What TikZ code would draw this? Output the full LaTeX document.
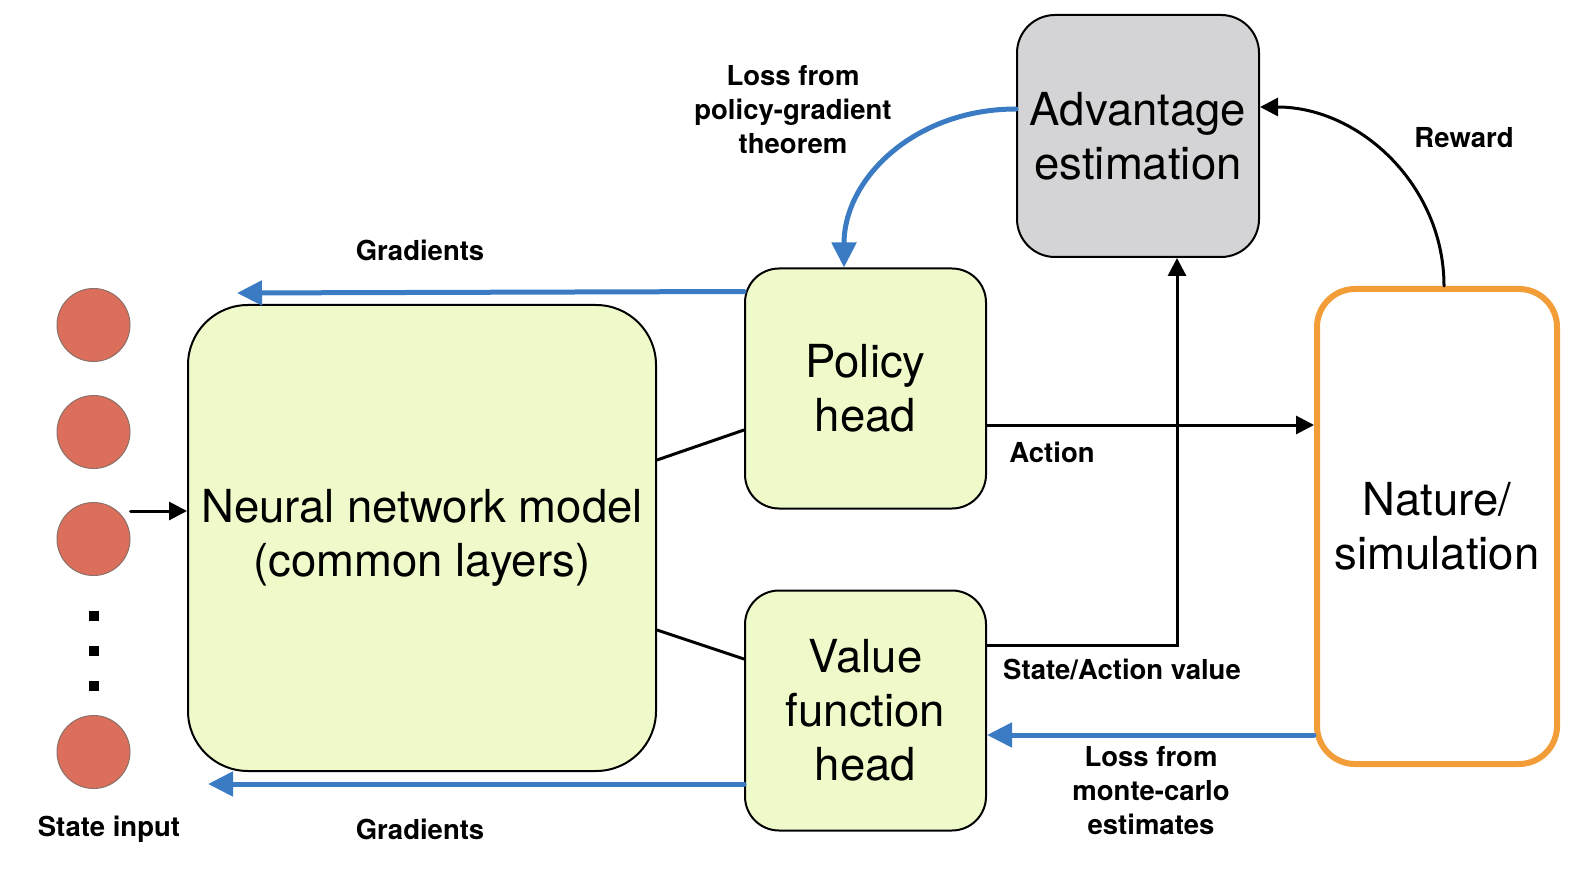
\documentclass[tikz,border=0pt]{standalone}
\usepackage{fontspec}
\setmainfont{TeX Gyre Heros}
\usetikzlibrary{arrows.meta}

\definecolor{headgreen}{HTML}{EFFACB}
\definecolor{unitred}{HTML}{DB6F5B}
\definecolor{unitedge}{HTML}{8C7068}
\definecolor{gradblue}{HTML}{3B7BC4}
\definecolor{advgray}{HTML}{D4D4D6}
\definecolor{natorange}{HTML}{F29D38}

\begin{document}
\begin{tikzpicture}[%
        x = 1pt,
        y = -1pt,
        line cap = round,
        > = {Triangle[length = 18pt, width = 18pt]},
        block/.style = {%
            draw = black,
            line width = 2pt,
            rounded corners = 34pt,
            align = center,
            inner sep = 0pt,
            font = \fontsize{45.5}{54}\selectfont
        },
        head/.style = {block, fill = headgreen, minimum width = 241pt, minimum height = 240pt},
        unit/.style = {%
            circle,
            draw = unitedge,
            line width = 1pt,
            fill = unitred,
            minimum size = 73pt,
            inner sep = 0pt
        },
        dot/.style = {fill = black, minimum size = 10pt, inner sep = 0pt},
        lbl/.style = {align = center, font = \fontsize{27.5}{34}\selectfont\bfseries},
        link/.style = {line width = 3pt},
        grad/.style = {%
            draw = gradblue,
            line width = 5pt,
            -{Triangle[length = 25pt, width = 24pt]}
        }
    ]

        % Fix the size of the page.
        \useasboundingbox (0, 0) rectangle (1594, 882);

        % The state input units.
        \node[unit] (in1) at (93.5, 325) {};
        \node[unit] (in2) at (93.5, 432) {};
        \node[unit] (in3) at (93.5, 539) {};
        \node[unit] (in4) at (93.5, 752) {};
        \node[dot] (d1) at (93.5, 616) {};
        \node[dot] (d2) at (93.5, 651) {};
        \node[dot] (d3) at (93.5, 686) {};

        % The blocks of the model and the environment.
        \node[block, fill = headgreen, rounded corners = 60pt,
            minimum width = 468pt, minimum height = 466pt] (nn) at (422, 538)
            {Neural network model\\(common layers)};
        \node[head] (policy) at (865.5, 388.5) {Policy\\head};
        \node[head] (value) at (865.5, 710.5) {Value\\function\\head};
        \node[block, fill = advgray, rounded corners = 38pt,
            minimum width = 242pt, minimum height = 242pt] (adv) at (1138, 136)
            {Advantage\\estimation};
        \node[block, draw = natorange, line width = 6pt, rounded corners = 38pt,
            minimum width = 240pt, minimum height = 475pt] (nature) at (1437, 526.5)
            {Nature/\\simulation};

        % Points where the connectors leave or meet the blocks.
        \coordinate (inpt) at ([yshift = 28pt]in3.east);
        \coordinate (gtop) at (237, 293);
        \coordinate (gbot) at (208, 784);
        \coordinate (act) at ([yshift = -36.5pt]policy.east);
        \coordinate (sav) at ([yshift = 65.5pt]value.east);
        \coordinate (mc) at ([yshift = -208.5pt]nature.west);

        % Forward pass through the network.
        \draw[link, ->] (inpt) to (nn.west |- inpt);
        \draw[link] ([yshift = 78pt]nn.east) to ([yshift = -41.5pt]policy.west);
        \draw[link] ([yshift = -92pt]nn.east) to ([yshift = 51.5pt]value.west);

        % Action, value and reward signals.
        \draw[link, ->] (act) to (nature.west |- act);
        \draw[link, ->] (sav) -| ([xshift = 39pt]adv.south);
        \draw[link, ->] ([xshift = 7pt]nature.north)
            .. controls +(0, -100) and +(100, 0) .. ([yshift = 29pt]adv.east);

        % Losses and gradients flowing back.
        \draw[grad] ([yshift = 27pt]adv.west)
            .. controls +(-100, 0) and +(0, -90) .. ([xshift = -21.5pt]policy.north);
        \draw[grad] (mc) to (value.east |- mc);
        \draw[grad] ([yshift = -24pt]policy.north west) to (gtop);
        \draw[grad] (value.west |- gbot) to (gbot);

        % Add all of the labels.
        \node[lbl] (lstate) at (109, 829) {State input};
        \node[lbl] (lgtop) at (420, 250) {Gradients};
        \node[lbl] (lgbot) at (420, 829) {Gradients};
        \node[lbl] (lpg) at (793, 110) {Loss from\\policy-gradient\\theorem};
        \node[lbl] (lact) at (1052, 452) {Action};
        \node[lbl] (lsav) at (1122, 669) {State/Action value};
        \node[lbl] (lmc) at (1151, 791) {Loss from\\monte-carlo\\estimates};
        \node[lbl] (lrew) at (1464, 138) {Reward};
    \end{tikzpicture}
\end{document}
